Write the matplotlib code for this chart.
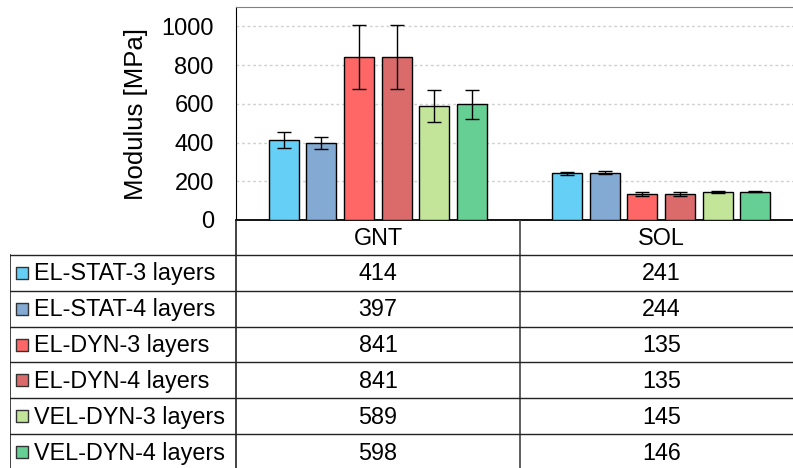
import matplotlib
matplotlib.use('Agg')
from matplotlib import pyplot as plt
import numpy as np

plt.rcParams['font.family'] = ['Liberation Sans', 'DejaVu Sans']

categories = ['GNT', 'SOL']
series = ['EL-STAT-3 layers', 'EL-STAT-4 layers', 'EL-DYN-3 layers',
          'EL-DYN-4 layers', 'VEL-DYN-3 layers', 'VEL-DYN-4 layers']
values = [[414, 241], [397, 244], [841, 135], [841, 135], [589, 145], [598, 146]]
errors = [[41, 7], [30, 7], [165, 12], [165, 12], [82, 4], [75, 3]]
colors = ['#66CFF5', '#82AAD3', '#FF6666', '#DB6B6B', '#C3E59A', '#66CF94']
yticks = [0, 200, 400, 600, 800, 1000]

W, H = 793, 468
fig = plt.figure(figsize=(W / 100, H / 100), dpi=100)

# chart area (runs past the right edge like the original)
x0, x1, ytop, ybase = 236, 803, 7, 220
ax = fig.add_axes([x0 / W, 1 - ybase / H, (x1 - x0) / W, (ybase - ytop) / H])
x = np.arange(len(categories))
step, bw = 0.1328, 0.1056
for i, name in enumerate(series):
    ax.bar(x + (i - 2.5) * step, values[i], width=bw, color=colors[i],
           edgecolor='black', linewidth=1, zorder=3,
           yerr=errors[i], capsize=5,
           error_kw=dict(elinewidth=1, capthick=1, ecolor='black', zorder=4))
ax.set_xlim(-0.5, 1.5)
ax.set_ylim(0, 1100)
ax.set_yticks(yticks)
ax.set_xticks([])
ax.tick_params(axis='y', length=0, pad=16, labelsize=17)
ax.yaxis.grid(True, color='#D0D0D0', linestyle=(0, (2, 2)), linewidth=1, zorder=0)
for s in ['top', 'right']:
    ax.spines[s].set_color('#808080')
ax.spines['left'].set_color('black')
ax.spines['bottom'].set_color('black')
ax.spines['bottom'].set_linewidth(1.3)

fig.text(136 / W, 1 - 114 / H, 'Modulus [MPa]', rotation=90, fontsize=18.5,
         ha='center', va='center')

# data table under the chart
tx0, tbot = 10, 470
tab = fig.add_axes([tx0 / W, 1 - tbot / H, (x1 - tx0) / W, (tbot - ybase) / H])
tab.set_xlim(tx0, x1)
tab.set_ylim(tbot, ybase)
tab.axis('off')
hdr = 255
rowh = (tbot - hdr) / len(series)
lc = '#222222'
tab.plot([x0, x0], [ybase, tbot], color=lc, lw=1.2)
tab.plot([520, 520], [ybase, tbot], color='#444444', lw=1.2)
tab.plot([tx0, tx0], [hdr, tbot], color=lc, lw=1.2)
for r in range(len(series) + 1):
    yy = hdr + r * rowh
    tab.plot([tx0, x1], [yy, yy], color=lc, lw=1.0)
ccent = [378, 661.5]
fs = 16.8
for j, c in enumerate(categories):
    tab.text(ccent[j], (ybase + hdr) / 2 + 1, c, ha='center', va='center', fontsize=fs)
for i, name in enumerate(series):
    yc = hdr + (i + 0.5) * rowh
    tab.scatter([21.5], [yc], marker='s', s=65, color=colors[i],
                edgecolor='#333333', linewidth=1, zorder=3)
    tab.text(34, yc + 1, name, ha='left', va='center', fontsize=fs)
    for j in range(len(categories)):
        tab.text(ccent[j], yc + 1, str(values[i][j]), ha='center', va='center',
                 fontsize=fs)

fig.savefig('out.png', dpi=100)
